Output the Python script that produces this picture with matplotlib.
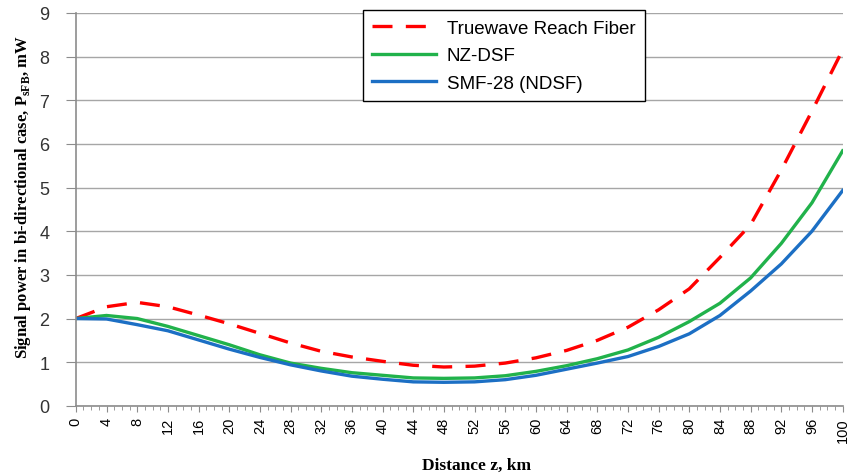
import numpy as np
import matplotlib
matplotlib.use("Agg")
import matplotlib.pyplot as plt
from matplotlib.ticker import MultipleLocator

# distance along the fiber, km
z_km = [0, 4, 8, 12, 16, 20, 24, 28, 32, 36, 40, 44, 48, 52,
        56, 60, 64, 68, 72, 76, 80, 84, 88, 92, 96, 100]

# signal power in bi-directional pumping, mW
p_truewave = [2.00, 2.27, 2.37, 2.27, 2.08, 1.88, 1.66, 1.44, 1.25, 1.12, 1.02, 0.93, 0.89,
              0.91, 0.98, 1.10, 1.27, 1.50, 1.80, 2.20, 2.68, 3.40, 4.15, 5.40, 6.75, 8.15]
p_nzdsf = [2.00, 2.07, 2.00, 1.82, 1.61, 1.40, 1.17, 0.98, 0.86, 0.76, 0.70, 0.64, 0.63,
           0.64, 0.69, 0.79, 0.92, 1.08, 1.28, 1.57, 1.93, 2.35, 2.93, 3.72, 4.65, 5.84]
p_smf28 = [2.00, 1.99, 1.86, 1.72, 1.51, 1.30, 1.11, 0.94, 0.80, 0.68, 0.61, 0.55, 0.54,
           0.55, 0.60, 0.70, 0.84, 0.98, 1.13, 1.36, 1.65, 2.07, 2.63, 3.25, 4.00, 4.93]

labels = ["Truewave Reach Fiber", "NZ-DSF", "SMF-28 (NDSF)"]

fig = plt.figure(figsize=(8.52, 4.77), dpi=100)
ax = fig.add_axes([0.089, 0.147, 0.900, 0.824])

ax.plot(z_km, p_truewave, color="#FF0000", lw=2.4, dashes=(6, 4), label=labels[0])
ax.plot(z_km, p_nzdsf, color="#21B24B", lw=2.4, label=labels[1])
ax.plot(z_km, p_smf28, color="#1C6FC4", lw=2.4, label=labels[2])

ax.set_xlim(0, 100)
ax.set_ylim(0, 9)
ax.xaxis.set_major_locator(MultipleLocator(4))
ax.xaxis.set_minor_locator(MultipleLocator(1))
ax.yaxis.set_major_locator(MultipleLocator(1))

ax.grid(axis="y", color="#A6A6A6", lw=1.0)
ax.set_axisbelow(True)
for side in ("top", "right"):
    ax.spines[side].set_visible(False)
for side in ("left", "bottom"):
    ax.spines[side].set_color("#8C8C8C")
    ax.spines[side].set_linewidth(1.2)

ax.tick_params(axis="y", length=7, color="#8C8C8C", labelsize=13, pad=12,
               labelcolor="#333333")
ax.tick_params(axis="x", which="major", length=4, color="#8C8C8C",
               labelsize=10.5, labelrotation=90, pad=4)
ax.tick_params(axis="x", which="minor", length=3, color="#8C8C8C")
for t in ax.get_xticklabels() + ax.get_yticklabels():
    t.set_family("Liberation Sans")

ax.set_xlabel("Distance z, km", family="Liberation Serif", fontweight="bold",
              fontsize=12.5)
ax.xaxis.set_label_coords(0.523, -0.13)
ax.set_ylabel(r"Signal power in bi-directional case, P$_{\mathregular{sFB}}$, mW",
              family="Liberation Serif", fontweight="bold", fontsize=12)
ax.yaxis.set_label_coords(-0.056, 0.535)

leg = ax.legend(loc="upper left", bbox_to_anchor=(0.374, 1.006), frameon=True,
                fancybox=False, edgecolor="black", framealpha=1,
                prop={"family": "Liberation Sans", "size": 13.5},
                handlelength=3.4, handletextpad=0.6, borderpad=0.5,
                labelspacing=0.55, borderaxespad=0.0)
leg.get_frame().set_linewidth(1.0)

fig.savefig("out.png", dpi=100)
